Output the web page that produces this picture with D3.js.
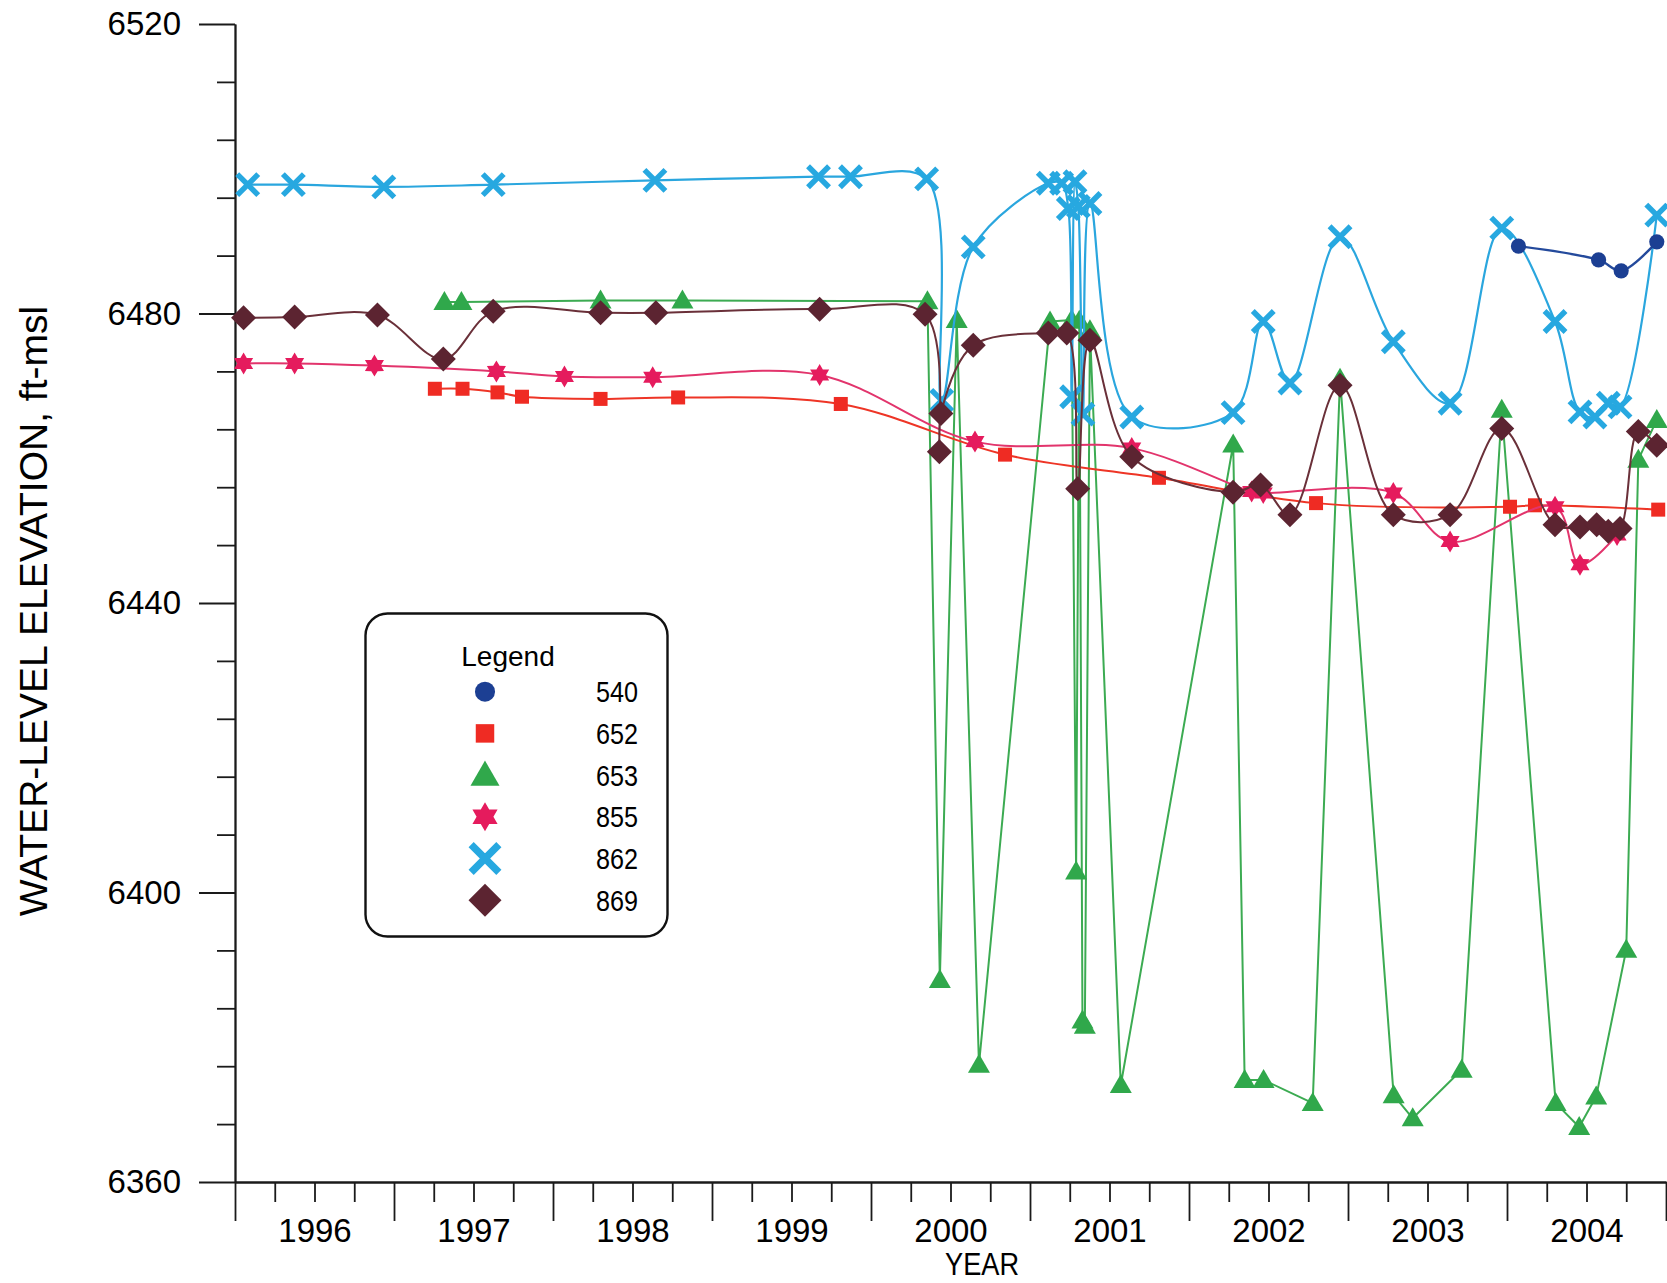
<!DOCTYPE html>
<html>
<head>
<meta charset="utf-8">
<script src="https://cdn.jsdelivr.net/npm/d3@7"></script>
<style>
  html, body { margin: 0; padding: 0; background: #fff; }
  svg { display: block; }
  text { font-family: "Liberation Sans", Arial, sans-serif; fill: #000; }
</style>
</head>
<body>
<svg id="chart" width="1667" height="1283"></svg>
<script>
// ---------- DATA (decimal year, water-level elevation ft-msl) ----------
const seriesNames = ["540", "652", "653", "855", "862", "869"];

const dates540 = [2004.072, 2004.576, 2004.718, 2004.942];
const vals540  = [6489.3, 6487.4, 6485.9, 6489.9];

const dates652 = [1997.257, 1997.431, 1997.651, 1997.805, 1998.299, 1998.787, 1999.810,
                  2000.843, 2001.811, 2002.799, 2004.019, 2004.176, 2004.951];
const vals652  = [6469.6, 6469.6, 6469.1, 6468.5, 6468.2, 6468.4, 6467.5,
                  6460.5, 6457.3, 6453.8, 6453.3, 6453.5, 6452.9];

const dates653 = [1997.317, 1997.424, 1998.299, 1998.814, 2000.355, 2000.433, 2000.539, 2000.679,
                  2001.126, 2001.262, 2001.290, 2001.310, 2001.330, 2001.345, 2001.377, 2001.571,
                  2002.278, 2002.350, 2002.469, 2002.778, 2002.950, 2003.287, 2003.407, 2003.715,
                  2003.967, 2004.306, 2004.454, 2004.561, 2004.750, 2004.826, 2004.942];
const vals653  = [6481.6, 6481.6, 6481.8, 6481.8, 6481.7, 6387.9, 6479.1, 6376.2,
                  6478.9, 6479.1, 6402.9, 6479.0, 6382.3, 6381.6, 6477.7, 6373.4,
                  6461.9, 6374.1, 6374.1, 6370.9, 6471.0, 6372.0, 6368.8, 6375.5,
                  6466.7, 6370.9, 6367.6, 6371.8, 6392.1, 6459.8, 6465.3];

const dates855 = [1996.054, 1996.375, 1996.877, 1997.644, 1998.072, 1998.627, 1999.677,
                  2000.654, 2001.640, 2002.394, 2002.467, 2003.285, 2003.642, 2004.302,
                  2004.459, 2004.692];
const vals855  = [6473.1, 6473.1, 6472.8, 6472.0, 6471.3, 6471.2, 6471.5,
                  6462.3, 6461.4, 6455.4, 6455.2, 6455.2, 6448.5, 6453.3,
                  6445.3, 6449.4];

const dates862 = [1996.080, 1996.367, 1996.936, 1997.624, 1998.641, 1999.670, 1999.871, 2000.350,
                  2000.445, 2000.643, 2001.115, 2001.199, 2001.241, 2001.262, 2001.283, 2001.304,
                  2001.333, 2001.377, 2001.640, 2002.277, 2002.467, 2002.635, 2002.950, 2003.285,
                  2003.642, 2003.967, 2004.302, 2004.459, 2004.553, 2004.637, 2004.711, 2004.942];
const vals862  = [6497.8, 6497.8, 6497.5, 6497.8, 6498.4, 6498.9, 6498.9, 6498.6,
                  6468.0, 6489.2, 6498.0, 6498.0, 6494.5, 6468.5, 6498.2, 6494.8,
                  6466.1, 6495.2, 6465.7, 6466.3, 6478.9, 6470.4, 6490.6, 6476.1,
                  6467.6, 6491.8, 6478.9, 6466.4, 6465.7, 6467.6, 6467.1, 6493.6];

const dates869 = [1996.054, 1996.375, 1996.896, 1997.310, 1997.624, 1998.299, 1998.647, 1999.677,
                  2000.340, 2000.430, 2000.440, 2000.643, 2001.115, 2001.231, 2001.300, 2001.377,
                  2001.640, 2002.277, 2002.450, 2002.635, 2002.950, 2003.285, 2003.642, 2003.967,
                  2004.302, 2004.459, 2004.564, 2004.637, 2004.711, 2004.826, 2004.942];
const vals869  = [6479.4, 6479.5, 6479.8, 6473.7, 6480.3, 6480.1, 6480.1, 6480.6,
                  6479.9, 6460.9, 6466.2, 6475.6, 6477.3, 6477.3, 6455.8, 6476.3,
                  6460.2, 6455.3, 6456.3, 6452.2, 6470.1, 6452.2, 6452.2, 6464.1,
                  6450.8, 6450.5, 6450.8, 6449.9, 6450.3, 6463.7, 6461.8];

const yTickValues = [6360, 6400, 6440, 6480, 6520];
const yearTicks   = [1996, 1997, 1998, 1999, 2000, 2001, 2002, 2003, 2004, 2005];
const yearLabels  = ["1996", "1997", "1998", "1999", "2000", "2001", "2002", "2003", "2004"];

// ---------- STYLES ----------
const styles = {
  "540": { color: "#1c3f93", line: "#244a9c", shape: "circle",   curve: "smooth", width: 2.4 },
  "652": { color: "#ef2b23", line: "#ee3526", shape: "square",   curve: "smooth", width: 2.0 },
  "653": { color: "#30a84b", line: "#3cab52", shape: "triangle", curve: "linear", width: 2.0 },
  "855": { color: "#e51b5d", line: "#e2346c", shape: "star",     curve: "smooth", width: 2.0 },
  "862": { color: "#27a8e0", line: "#2aa6de", shape: "cross",    curve: "smooth", width: 2.2 },
  "869": { color: "#5c2431", line: "#6a3039", shape: "diamond",  curve: "smooth", width: 2.0 }
};
const seriesData = {
  "540": [dates540, vals540], "652": [dates652, vals652], "653": [dates653, vals653],
  "855": [dates855, vals855], "862": [dates862, vals862], "869": [dates869, vals869]
};

// ---------- SCALES ----------
const svg = d3.select("#chart");
const x = d3.scaleLinear().domain([1996, 2005]).range([235, 1666]);
const y = d3.scaleLinear().domain([6360, 6520]).range([1182, 24]);

// ---------- AXES ----------
const axisColor = "#1a1a1a";
function styleAxis(g) {
  g.selectAll("path.domain").attr("stroke", axisColor).attr("stroke-width", 1.8);
  g.selectAll(".tick line").attr("stroke", axisColor).attr("stroke-width", 1.8);
}
const x0 = x(1996);
const yMinor = d3.range(6360, 6521, 8).filter(v => !yTickValues.includes(v));
svg.append("g").attr("transform", `translate(${x0},0)`)
  .call(d3.axisLeft(y).tickValues(yMinor).tickSize(18).tickSizeOuter(0).tickFormat(""))
  .call(styleAxis);
const gy = svg.append("g").attr("transform", `translate(${x0},0)`)
  .call(d3.axisLeft(y).tickValues(yTickValues).tickSize(36).tickSizeOuter(0).tickPadding(18).tickFormat(d3.format("d")))
  .call(styleAxis);
gy.selectAll(".tick text").style("font-size", "33px").attr("fill", "#000");

const y0 = y(6360);
const xMinor = d3.range(1996, 2005.001, 0.25).filter(v => Math.abs(v - Math.round(v)) > 0.01);
svg.append("g").attr("transform", `translate(0,${y0})`)
  .call(d3.axisBottom(x).tickValues(xMinor).tickSize(20).tickSizeOuter(0).tickFormat(""))
  .call(styleAxis);
svg.append("g").attr("transform", `translate(0,${y0})`)
  .call(d3.axisBottom(x).tickValues(yearTicks).tickSize(39).tickSizeOuter(0).tickFormat(""))
  .call(styleAxis);
const gxl = svg.append("g").attr("transform", `translate(0,${y0})`)
  .call(d3.axisBottom(x).tickValues(yearLabels.map(s => +s + 0.5)).tickSize(0).tickSizeOuter(0)
        .tickFormat((d, i) => yearLabels[i]));
gxl.select("path.domain").remove();
gxl.selectAll(".tick text").style("font-size", "33px").attr("fill", "#000").attr("y", 60).attr("dy", 0);

// axis titles
svg.append("text")
  .attr("transform", "translate(47,611) rotate(-90)")
  .attr("text-anchor", "middle")
  .style("font-size", "39px")
  .text("WATER-LEVEL ELEVATION, ft-msl");
svg.append("text")
  .attr("x", 982).attr("y", 1275)
  .attr("text-anchor", "middle")
  .style("font-size", "32px")
  .attr("textLength", 74).attr("lengthAdjust", "spacingAndGlyphs")
  .text("YEAR");

// ---------- MARKERS ----------
function starPath(R) {
  const r = R * 0.58, pts = [];
  for (let i = 0; i < 12; i++) {
    const a = -Math.PI / 2 + i * Math.PI / 6;
    const rr = i % 2 === 0 ? R : r;
    pts.push([rr * Math.cos(a), rr * Math.sin(a)]);
  }
  return "M" + pts.map(p => p.join(",")).join("L") + "Z";
}
function drawMarker(g, shape, color, s) {
  if (shape === "circle") {
    g.append("circle").attr("r", 7.6 * s).attr("fill", color);
  } else if (shape === "square") {
    g.append("rect").attr("x", -7 * s).attr("y", -7 * s).attr("width", 14 * s).attr("height", 14 * s).attr("fill", color);
  } else if (shape === "triangle") {
    g.append("path").attr("d", `M0,${-11 * s}L${11 * s},${8 * s}L${-11 * s},${8 * s}Z`).attr("fill", color);
  } else if (shape === "star") {
    g.append("path").attr("d", starPath(11 * s)).attr("fill", color);
  } else if (shape === "cross") {
    const a = 10.5 * s;
    g.append("path").attr("d", `M${-a},${-a}L${a},${a}M${-a},${a}L${a},${-a}`)
      .attr("stroke", color).attr("stroke-width", 5.5 * s).attr("fill", "none");
  } else if (shape === "diamond") {
    const a = 12.5 * s;
    g.append("path").attr("d", `M0,${-a}L${a},0L0,${a}L${-a},0Z`).attr("fill", color);
  }
}

// ---------- SERIES ----------
const drawOrder = ["653", "652", "855", "862", "869", "540"];
drawOrder.forEach(name => {
  const st = styles[name];
  const [ds, vs] = seriesData[name];
  const pts = ds.map((d, i) => ({ t: d, v: vs[i] }));
  const line = d3.line().x(p => x(p.t)).y(p => y(p.v))
    .curve(st.curve === "linear" ? d3.curveLinear : d3.curveCatmullRom.alpha(0.5));
  const g = svg.append("g").attr("class", "series s" + name);
  g.append("path").attr("d", line(pts)).attr("fill", "none")
    .attr("stroke", st.line).attr("stroke-width", st.width).attr("stroke-linejoin", "round");
  pts.forEach(p => {
    const mg = g.append("g").attr("transform", `translate(${x(p.t)},${y(p.v)})`);
    drawMarker(mg, st.shape, st.color, 1);
  });
});

// ---------- LEGEND ----------
const lg = svg.append("g").attr("class", "legend");
lg.append("rect").attr("x", 365.5).attr("y", 613.5).attr("width", 302).attr("height", 323)
  .attr("rx", 22).attr("ry", 22).attr("fill", "#fff").attr("stroke", "#111").attr("stroke-width", 2.4);
lg.append("text").attr("x", 508).attr("y", 666).attr("text-anchor", "middle")
  .style("font-size", "28px").text("Legend");
seriesNames.forEach((name, i) => {
  const cy = 691.7 + i * 41.7;
  const mg = lg.append("g").attr("transform", `translate(485,${cy})`);
  drawMarker(mg, styles[name].shape, styles[name].color, 1.32);
  lg.append("text").attr("x", 638).attr("y", cy + 10.5).attr("text-anchor", "end")
    .style("font-size", "29px").attr("textLength", 42).attr("lengthAdjust", "spacingAndGlyphs")
    .text(name);
});
</script>
</body>
</html>
